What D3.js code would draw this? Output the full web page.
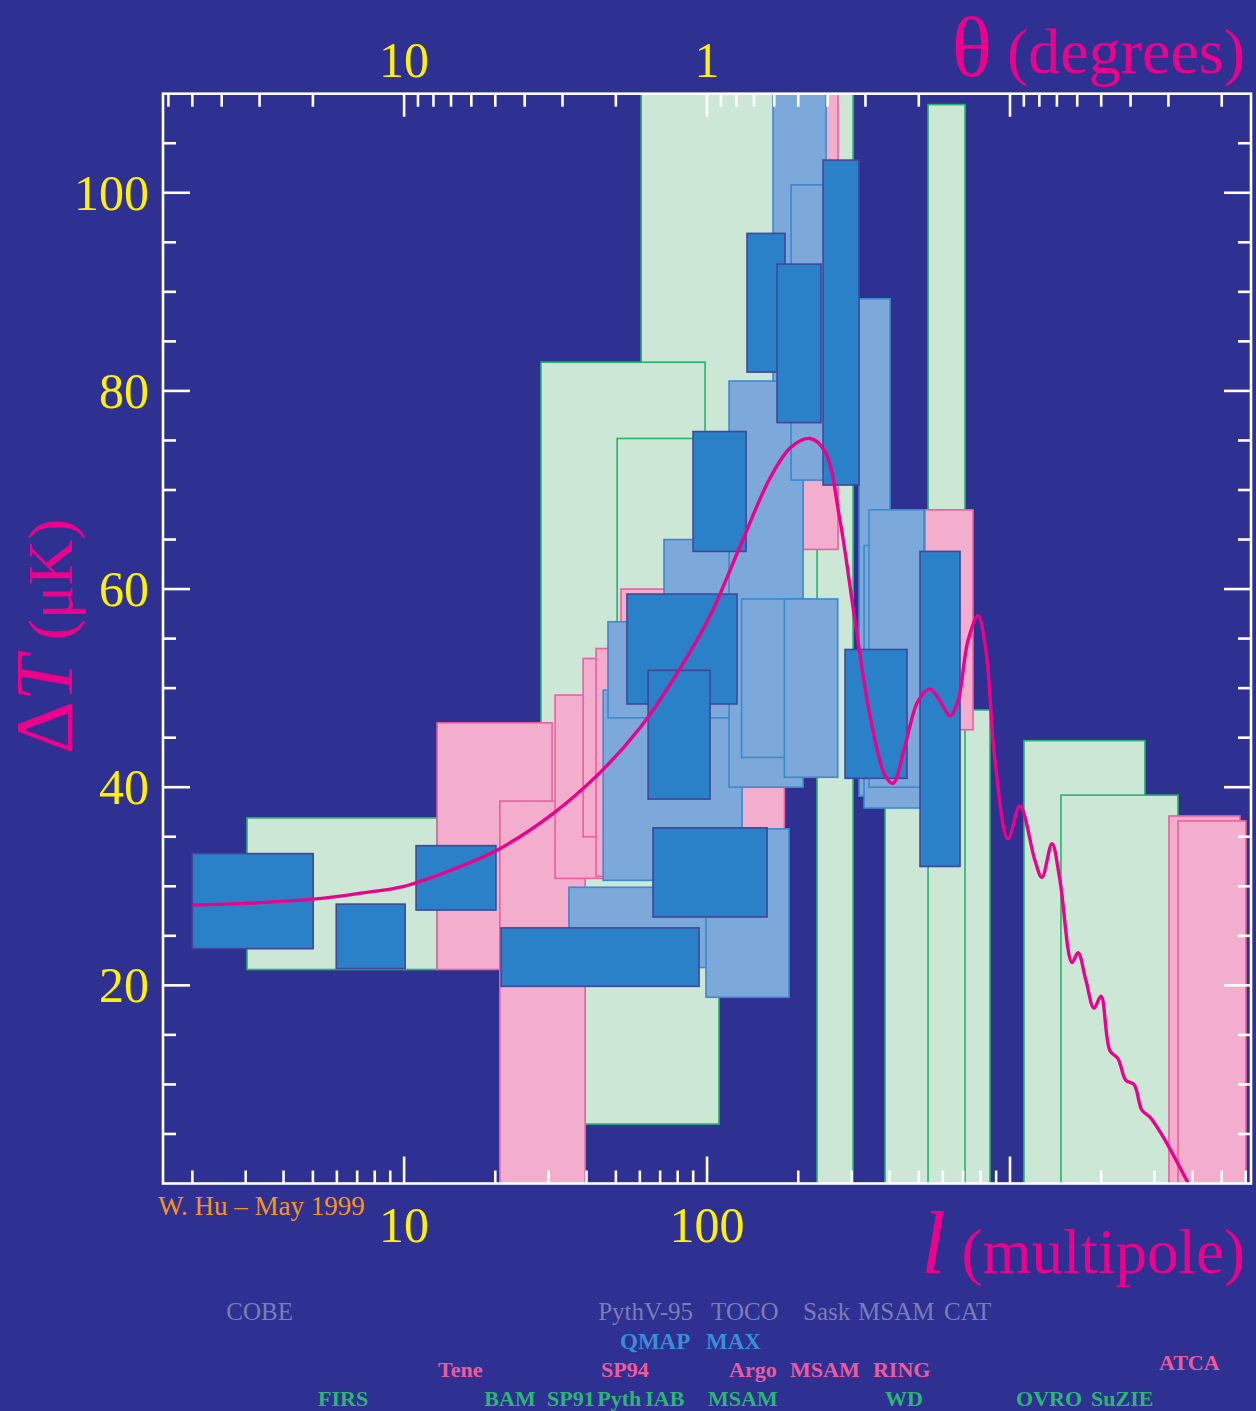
<!DOCTYPE html>
<html>
<head>
<meta charset="utf-8">
<script src="https://cdn.jsdelivr.net/npm/d3@7"></script>
<style>
  html, body { margin: 0; padding: 0; background: #2e3192; }
  svg { display: block; }
  text { font-family: "Liberation Serif", "Times New Roman", serif; }
</style>
</head>
<body>
<div id="container"></div>
<script>
// band powers: [lMin, lMax, dTMin, dTMax] (l multipole, dT in microK)
const greenBoxes = [
    [60.6, 303.3, 45.0, 130],
    [3.03, 12.85, 21.6, 36.9],
    [28.3, 98.5, 36, 82.9],
    [39.6, 109.5, 6.0, 36],
    [50.5, 109.5, 45, 75.2],
    [230.7, 303.3, -5, 130],
    [386.8, 859, -5, 47.8],
    [536.4, 710.4, -5, 108.9],
    [1112, 2789, -5, 44.7],
    [1473, 3585, -5, 39.2]
];
const pinkBoxes = [
    [12.85, 30.8, 21.6, 46.5],
    [20.7, 39.6, -5, 38.6],
    [31.5, 60, 30.8, 49.3],
    [39, 80, 35, 53],
    [43, 86, 31, 54],
    [52, 110, 39, 60],
    [115, 180, 35, 40],
    [207.5, 270.6, 64, 130],
    [524.3, 754.9, 45.8, 68.0],
    [3348, 5742, -5, 37.1],
    [3585, 6010, -5, 36.6]
];
const lightBlueBoxes = [
    [35.0, 130.5, 21.8, 29.9],
    [99.2, 186.5, 18.8, 35.8],
    [45.4, 130.5, 30.6, 49.8],
    [47.1, 175, 47, 56.7],
    [72.1, 180.9, 50.7, 65],
    [118.2, 207.5, 40, 81],
    [165.1, 247.0, 81, 130],
    [189.4, 247.0, 71, 100.8],
    [317.5, 401.8, 39.1, 89.3],
    [329.8, 508.6, 37.9, 64.4],
    [342.5, 520.4, 40, 68],
    [130, 220, 43, 59],
    [180, 270, 41, 59]
];
const darkBlueBoxes = [
    [2.0, 5.01, 23.7, 33.3],
    [5.97, 10.08, 21.7, 28.2],
    [10.95, 20.1, 27.6, 34.1],
    [20.9, 94.1, 19.9, 25.8],
    [54.4, 125.6, 48.4, 59.5],
    [63.9, 102.3, 38.8, 51.8],
    [66.3, 157.8, 26.9, 35.9],
    [89.9, 134.5, 63.8, 75.9],
    [135.5, 180.9, 81.9, 95.9],
    [170.2, 237.8, 76.8, 92.8],
    [241.5, 317.5, 70.5, 103.3],
    [285.4, 457.2, 40.9, 53.9],
    [504.7, 683.9, 32.0, 63.8]
];

// theory curve
const curveL = [2.0, 3.1, 5.0, 7.16, 10, 14.2, 20.7, 30.3, 44.4, 60.1, 81.5, 102.3, 128.5, 161.4, 189, 218.8,
    245, 274.8, 307.9, 345.1, 386.8, 411.1, 450.3, 497, 544.5, 587.5, 633.9, 673.4, 726.8, 784.4, 833.6,
    892.5, 984.9, 1079, 1209, 1275, 1376, 1462, 1602, 1677, 1781, 1893, 1997, 2138, 2272, 2414, 2566,
    2726, 2897, 3175, 3869];
const curveDT = [28.1, 28.3, 28.7, 29.3, 30.0, 31.6, 33.8, 37.1, 41.5, 46.0, 52.0, 57.3, 64.3, 71.2, 74.3, 75.2,
    73.9, 66.9, 56.8, 47.2, 41.2, 40.4, 44.2, 48.7, 49.9, 48.7, 47.2, 48.7, 54.8, 57.3, 53.7,
    42.7, 34.8, 38.1, 32.6, 30.9, 34.3, 30.6, 22.3, 23.3, 20.5, 17.7, 18.9, 13.4, 12.6, 10.4, 10.0,
    7.4, 6.7, 4.9, 0.05];

// tick labels
const dtTicks = [20, 40, 60, 80, 100];
const lTicks = [10, 100];
const thetaTicks = [10, 1];

// experiment names: [name, l where the label starts]
const grayNames = [["COBE", 2.59], ["PythV-95", 43.7], ["TOCO", 103.1], ["Sask", 207.5], ["MSAM", 315], ["CAT", 605.8]];
const blueNames = [["QMAP", 51.6], ["MAX", 99.2]];
const pinkNames = [["Tene", 12.95], ["SP94", 44.7], ["Argo", 118.2], ["MSAM", 187.9], ["RING", 353], ["ATCA", 3102]];
const greenNames = [["FIRS", 5.2], ["BAM", 18.4], ["SP91", 29.65], ["Pyth", 43.4], ["IAB", 62.5], ["MSAM", 100.8],
    ["WD", 386.8], ["OVRO", 1047], ["SuZIE", 1851]];

const w = 1256;
const h = 1411;
const plotLeft = 163, plotRight = 1251, plotTop = 93.7, plotBottom = 1183.5;

const svg = d3.select('#container').append('svg')
    .attr('width', w)
    .attr('height', h);

svg.append('rect')
    .attr('width', w)
    .attr('height', h)
    .attr('fill', '#2e3192');

const xScale = d3.scaleLog()
    .domain([1.6, 6245])
    .range([plotLeft, plotRight]);

const yScale = d3.scaleLinear()
    .domain([0, 110])
    .range([plotBottom, plotTop]);

svg.append('clipPath')
    .attr('id', 'plot-clip')
    .append('rect')
    .attr('x', plotLeft)
    .attr('y', plotTop)
    .attr('width', plotRight - plotLeft)
    .attr('height', plotBottom - plotTop);

const plot = svg.append('g').attr('clip-path', 'url(#plot-clip)');

const drawBoxes = (boxes, fill, stroke) => {
    plot.append('g')
        .selectAll('rect')
        .data(boxes)
        .enter()
        .append('rect')
        .attr('x', d => xScale(d[0]))
        .attr('y', d => yScale(d[3]))
        .attr('width', d => xScale(d[1]) - xScale(d[0]))
        .attr('height', d => yScale(d[2]) - yScale(d[3]))
        .attr('fill', fill)
        .attr('stroke', stroke)
        .attr('stroke-width', 1.6);
};

drawBoxes(greenBoxes, '#cde7d6', '#27b36b');
drawBoxes(pinkBoxes, '#f4aecd', '#ec5f9f');
drawBoxes(lightBlueBoxes, '#7ca8da', '#3a8ad0');
drawBoxes(darkBlueBoxes, '#2a81c8', '#40479b');

const line = d3.line()
    .x(d => xScale(d[0]))
    .y(d => yScale(d[1]))
    .curve(d3.curveCatmullRom.alpha(0.5));

plot.append('path')
    .datum(curveL.map((l, i) => [l, curveDT[i]]))
    .attr('d', line)
    .attr('fill', 'none')
    .attr('stroke', '#ec008c')
    .attr('stroke-width', 3.4);

// frame
svg.append('rect')
    .attr('x', plotLeft)
    .attr('y', plotTop)
    .attr('width', plotRight - plotLeft)
    .attr('height', plotBottom - plotTop)
    .attr('fill', 'none')
    .attr('stroke', '#fff')
    .attr('stroke-width', 2.6);

const ticks = svg.append('g')
    .attr('stroke', '#fff')
    .attr('stroke-width', 2.6);

const major = 27, minor = 13;

// bottom ticks in l
const lMinor = [];
[1, 10, 100, 1000].forEach(dec => {
    for (let k = 1; k < 10; k++) {
        const v = dec * k;
        if (v > 1.6 && v < 6245) lMinor.push(v);
    }
});
ticks.selectAll('.lt')
    .data(lMinor)
    .enter()
    .append('line')
    .attr('x1', d => xScale(d))
    .attr('x2', d => xScale(d))
    .attr('y1', plotBottom)
    .attr('y2', d => plotBottom - ([10, 100, 1000].includes(d) ? major : minor));

// top ticks in theta (degrees) = 100 / l
const thMinor = [];
[0.01, 0.1, 1, 10].forEach(dec => {
    for (let k = 1; k < 10; k++) {
        const v = +(dec * k).toPrecision(3);
        const l = 100 / v;
        if (l > 1.6 && l < 6245) thMinor.push(v);
    }
});
ticks.selectAll('.tt')
    .data(thMinor)
    .enter()
    .append('line')
    .attr('x1', d => xScale(100 / d))
    .attr('x2', d => xScale(100 / d))
    .attr('y1', plotTop)
    .attr('y2', d => plotTop + ([10, 1, 0.1].includes(d) ? major - 4 : minor));

// left and right ticks in dT
const dtMinor = d3.range(5, 110, 5);
ticks.selectAll('.yl')
    .data(dtMinor)
    .enter()
    .append('line')
    .attr('x1', plotLeft)
    .attr('x2', d => plotLeft + (d % 20 === 0 ? major : minor))
    .attr('y1', d => yScale(d))
    .attr('y2', d => yScale(d));
ticks.selectAll('.yr')
    .data(dtMinor)
    .enter()
    .append('line')
    .attr('x1', plotRight)
    .attr('x2', d => plotRight - (d % 20 === 0 ? major : minor))
    .attr('y1', d => yScale(d))
    .attr('y2', d => yScale(d));

// tick labels
const yellow = '#fff200';
svg.selectAll('.ylab')
    .data(dtTicks)
    .enter()
    .append('text')
    .attr('x', 149)
    .attr('y', d => yScale(d) + 17)
    .attr('text-anchor', 'end')
    .attr('font-size', 50)
    .attr('fill', yellow)
    .text(d => d);

svg.selectAll('.xlab')
    .data(lTicks)
    .enter()
    .append('text')
    .attr('x', d => xScale(d))
    .attr('y', 1242)
    .attr('text-anchor', 'middle')
    .attr('font-size', 50)
    .attr('fill', yellow)
    .text(d => d);

svg.selectAll('.tlab')
    .data(thetaTicks)
    .enter()
    .append('text')
    .attr('x', d => xScale(100 / d))
    .attr('y', 77)
    .attr('text-anchor', 'middle')
    .attr('font-size', 50)
    .attr('fill', yellow)
    .text(d => d);

// axis titles
const magenta = '#ec008c';
svg.append('text')
    .attr('x', 1245)
    .attr('y', 73)
    .attr('text-anchor', 'end')
    .attr('font-size', 64)
    .attr('fill', magenta)
    .text('(degrees)');
svg.append('text')
    .attr('x', 992)
    .attr('y', 75.5)
    .attr('text-anchor', 'end')
    .attr('font-size', 84)
    .attr('fill', magenta)
    .text('θ');

const lTitle = svg.append('text')
    .attr('x', 1245)
    .attr('y', 1273)
    .attr('text-anchor', 'end')
    .attr('fill', magenta);
lTitle.append('tspan').attr('font-size', 88).attr('font-style', 'italic').text('l');
lTitle.append('tspan').attr('font-size', 63).text(' (multipole)');

const dtTitle = svg.append('text')
    .attr('transform', 'translate(72,754) rotate(-90)')
    .attr('fill', magenta);
dtTitle.append('tspan').attr('font-size', 82).text('Δ');
dtTitle.append('tspan').attr('font-size', 82).attr('font-style', 'italic').text('T');
dtTitle.append('tspan').attr('font-size', 63).text(' (μK)');

svg.append('text')
    .attr('x', 158)
    .attr('y', 1215)
    .attr('font-size', 27)
    .attr('fill', '#f7941d')
    .text('W. Hu – May 1999');

// experiment names
const drawNames = (names, color, y, size, weight) => {
    svg.append('g')
        .selectAll('text')
        .data(names)
        .enter()
        .append('text')
        .attr('x', d => xScale(d[1]))
        .attr('y', d => d[0] === 'ATCA' ? y - 7 : y)
        .attr('font-size', size)
        .attr('font-weight', weight)
        .attr('fill', color)
        .text(d => d[0]);
};

drawNames(grayNames, '#7b7db9', 1320, 25, 'normal');
drawNames(blueNames, '#3a8ed6', 1349, 23, 'bold');
drawNames(pinkNames, '#ee5a9e', 1377, 22, 'bold');
drawNames(greenNames, '#2bb673', 1406, 22, 'bold');
</script>
</body>
</html>
